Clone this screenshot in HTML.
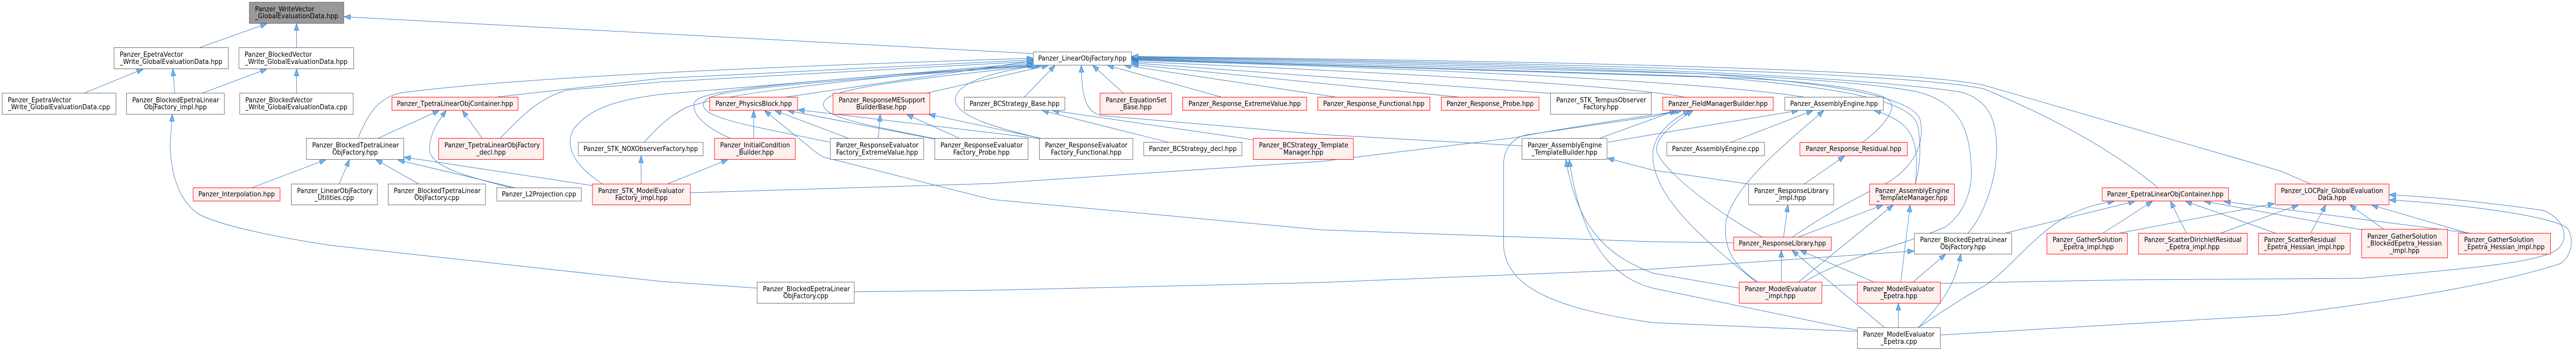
<!DOCTYPE html>
<html>
<head>
<meta charset="utf-8">
<style>
html,body{margin:0;padding:0;background:#fff;overflow:hidden;width:100%;height:100%;}
svg{display:block;position:absolute;left:0;top:0;width:100vw;height:100vh;}
text{font-family:"DejaVu Sans","Liberation Sans",sans-serif;font-size:13px;fill:#000;}
text.m{text-anchor:middle;}
.n rect{fill:#ffffff;stroke:#666666;stroke-width:1;}
.r rect{fill:#fff0f0;stroke:#ff0000;stroke-width:1;}
.g rect{fill:#999999;stroke:#666666;stroke-width:1;}
.e path{fill:none;stroke:#3f7fbf;stroke-width:1;marker-end:url(#ah);}
</style>
</head>
<body>
<svg viewBox="0 0 5455 681" preserveAspectRatio="none" xmlns="http://www.w3.org/2000/svg">
<defs>
<marker id="ah" markerUnits="userSpaceOnUse" markerWidth="15" markerHeight="12" refX="14" refY="6" orient="auto" viewBox="0 0 15 12">
<path d="M1,1.2 L14,6 L1,10.8 z" fill="#63b8ff" stroke="#3f7fbf" stroke-width="1"/>
</marker>
</defs>
<rect x="0" y="0" width="5455" height="681" fill="#ffffff"/>
<g class="e">
<path d="M422,92.5 L565,46"/>
<path d="M628,92.5 L628,46"/>
<path d="M2188,104 L729,32.5"/>
<path d="M178,180.7 L303,134"/>
<path d="M370,180.7 L366,134"/>
<path d="M428,180.7 L565,134"/>
<path d="M628,180.7 L628,134"/>
<path d="M533,364.4 L690,309.8"/>
<path d="M718,357 L740,309.8"/>
<path d="M887,357 L796,309.8"/>
<path d="M1091,364.4 L843,310.5"/>
<path d="M1254.5,360 L856,305"/>
<path d="M800,268.4 L930,214.5"/>
<path d="M1084,364.4 C1000,345 912,325 910,292 C908,262 928,235 945,214.5"/>
<path d="M1021,268.4 L979,214.5"/>
<path d="M1357.6,357 L1357.6,302.8"/>
<path d="M1596,268.4 L1596,214.5"/>
<path d="M1413,357 L1541,309.8"/>
<path d="M3671,471 L3500,469 L2800,446 L2100,387 L1745,305 C1730,298 1720,290 1710,282 L1619,214.5"/>
<path d="M1797,268.4 L1641,214.5"/>
<path d="M1979.5,270 L1668,214.5"/>
<path d="M2203,269 L1690,213"/>
<path d="M1860,268.4 L1864,222"/>
<path d="M2032,268.4 L1920,222"/>
<path d="M2205,268.4 L1967,222"/>
<path d="M2475,276.2 L2207,214.5"/>
<path d="M2653,271 L2229,214.5"/>
<path d="M2169,188.5 L2234,126.8"/>
<path d="M1962,180.7 L2220,126.8"/>
<path d="M1663,188.5 L2188,118"/>
<path d="M2379,180.7 L2314,126.8"/>
<path d="M2587,188.5 L2345,126.8"/>
<path d="M2830,188.5 L2381,126.8"/>
<path d="M3091,188.5 L2397,125"/>
<path d="M3283.5,181 L2397,122"/>
<path d="M3567,188.5 C3500,175 3200,150 2397,119.5"/>
<path d="M3821,188.5 C3700,170 3300,140 2397,117"/>
<path d="M3944,276.2 C3990,245 4012,215 4005,200 C3995,180 3900,163 3700,152 L2397,115.5"/>
<path d="M4056,357 C4066,320 4070,280 4060,240 C4040,195 3900,168 3600,148 L2397,114.5"/>
<path d="M3795,460 C3860,420 3920,388 3985,360 C4050,330 4078,280 4066,232 C4050,190 3900,162 3600,143 L2397,113.5"/>
<path d="M3821,547.3 C3900,500 4050,470 4120,440 C4165,410 4178,360 4174,320 C4170,250 4150,200 4060,178 C3900,150 3500,133 2397,112.5"/>
<path d="M4167,452.5 C4200,420 4228,350 4228,290 C4228,230 4210,192 4150,178 C3900,146 3400,126 2397,111.5"/>
<path d="M4570,364.4 C4500,310 4380,240 4200,172 C4000,135 3000,118 2397,110.5"/>
<path d="M4893,357 L4830,332 L4200,165 C4000,128 3000,116 2397,109.5"/>
<path d="M3223,283 L2800,261 L2330,224 C2300,215 2290,190 2290,127"/>
<path d="M758,268.4 C780,220 800,190 850,180 C1100,150 1600,130 2188,113"/>
<path d="M1050,188.5 L1400,152 L2188,116"/>
<path d="M1059,268.4 C1100,230 1140,190 1200,175 L1400,159 L2188,119"/>
<path d="M1276,357 C1230,330 1190,290 1215,250 C1250,210 1300,195 1400,183 L2188,122"/>
<path d="M1364,276.2 C1390,250 1410,230 1450,210 C1500,190 1700,160 2188,124.5"/>
<path d="M1547,268.4 C1500,250 1465,225 1470,200 C1480,180 1550,165 2190,126.5"/>
<path d="M1757,276 C1600,245 1480,230 1490,200 C1500,175 1600,168 2195,127"/>
<path d="M1985,270 C1850,245 1750,230 1744,205 C1740,180 1800,165 2205,127"/>
<path d="M2203,268.4 C2100,245 2020,225 2023,190 C2030,160 2100,140 2198,127"/>
<path d="M3821,357 L3906,302.8"/>
<path d="M3777,460 L3786,397.8"/>
<path d="M3808,460 L3987,397.8"/>
<path d="M3732,460 C3650,420 3530,340 3509,296 C3500,268 3550,235 3585,214.5"/>
<path d="M3719,547.3 C3600,460 3500,380 3500,300 C3500,262 3540,232 3578,214.5"/>
<path d="M3665,276.2 L3839,214.5"/>
<path d="M3723,547.3 C3660,510 3650,470 3655,430 C3670,360 3780,280 3862,214.5"/>
<path d="M4056,357 C4062,300 4060,260 4020,235 C4000,224 3985,218 3969,214.5"/>
<path d="M3405,276 L3500,261 L3808,214.5"/>
<path d="M3387,268.4 L3549,214.5"/>
<path d="M3933,643 L3500,626 C3300,600 3190,560 3184,478 L3184,320 C3184,290 3200,270 3230,262 L3500,226 L3555,214.5"/>
<path d="M1462,374 L2100,356 L2800,313 L3209,267 C3300,250 3450,230 3562,214.5"/>
<path d="M3683,559 L3500,530 C3400,495 3340,440 3316,310"/>
<path d="M3933,641 L3500,559 C3420,540 3350,480 3323,310"/>
<path d="M3703,357 L3500,330 L3404,307"/>
<path d="M3772,547.3 L3772,485.8"/>
<path d="M3808,547.3 L4009,397.8"/>
<path d="M4025,547.3 L4045,397.8"/>
<path d="M3969,547.3 L3812,485.8"/>
<path d="M4051,547.3 L4120,493.2"/>
<path d="M3991,635.7 L3795,485.8"/>
<path d="M4020,635.7 L4020,588.6"/>
<path d="M4062,635.7 C4100,600 4140,560 4152,493.2"/>
<path d="M1809,566 L2100,563 L2800,548 L3500,522 L4053,487"/>
<path d="M1603.5,559 L1400,546 L700,476 C600,462 470,440 420,415 C380,390 362,340 360,282 L365,222"/>
<path d="M4062,635.7 C4120,600 4170,570 4200,556 C4260,520 4300,460 4381,417 C4420,400 4450,394 4477,390.5"/>
<path d="M4246,452.5 L4521,390.5"/>
<path d="M4453,452.5 L4558,390.5"/>
<path d="M4487,452.5 L4816,395"/>
<path d="M4630,452.5 L4596,390.5"/>
<path d="M4702,452.5 L4867,397.8"/>
<path d="M4819,452.5 L4628,390.5"/>
<path d="M4893,452.5 L4925,397.8"/>
<path d="M5002,446 L4668,390.5"/>
<path d="M5048,444.7 L4976,397.8"/>
<path d="M5231,452.5 L4710,391"/>
<path d="M5227,452.5 L5022,397.8"/>
<path d="M3858,554 L4500,543 L5000,540 C5200,522 5380,512 5418,482 C5440,462 5432,425 5385,408 C5260,392 5150,382 5060,378"/>
<path d="M4109,650 L4830,611 C5100,580 5300,548 5420,512 C5450,497 5450,457 5436,442 C5400,418 5200,395 5060,388"/>
</g>

<!-- Row 1 -->
<g class="g"><rect x="528" y="4.3" width="200" height="41"/><text x="540" y="21.95">Panzer_WriteVector</text><text class="m" x="628" y="35.65">_GlobalEvaluationData.hpp</text></g>

<!-- Row 2 -->
<g class="n"><rect x="241.5" y="92.5" width="242" height="41"/><text x="253.5" y="110.15">Panzer_EpetraVector</text><text class="m" x="362.5" y="123.85">_Write_GlobalEvaluationData.hpp</text></g>
<g class="n"><rect x="506" y="92.5" width="243" height="41"/><text x="518" y="110.15">Panzer_BlockedVector</text><text class="m" x="627.5" y="123.85">_Write_GlobalEvaluationData.hpp</text></g>
<g class="n"><rect x="2188" y="100.8" width="208" height="25.6"/><text class="m" x="2292" y="117.6">Panzer_LinearObjFactory.hpp</text></g>

<!-- Row 3 -->
<g class="n"><rect x="4.5" y="180.7" width="241" height="41"/><text x="16.5" y="198.35">Panzer_EpetraVector</text><text class="m" x="125" y="212.05">_Write_GlobalEvaluationData.cpp</text></g>
<g class="n"><rect x="268" y="180.7" width="207" height="41"/><text x="280" y="198.35">Panzer_BlockedEpetraLinear</text><text class="m" x="371.5" y="212.05">ObjFactory_impl.hpp</text></g>
<g class="n"><rect x="507.5" y="180.7" width="240.5" height="41"/><text x="519.5" y="198.35">Panzer_BlockedVector</text><text class="m" x="627.75" y="212.05">_Write_GlobalEvaluationData.cpp</text></g>
<g class="r"><rect x="830" y="188.5" width="267" height="25.6"/><text class="m" x="963.5" y="205.3">Panzer_TpetraLinearObjContainer.hpp</text></g>
<g class="r"><rect x="1503" y="188.5" width="186" height="25.6"/><text class="m" x="1596" y="205.3">Panzer_PhysicsBlock.hpp</text></g>
<g class="r"><rect x="1764" y="180.7" width="205" height="41"/><text x="1776" y="198.35">Panzer_ResponseMESupport</text><text class="m" x="1866.5" y="212.05">BuilderBase.hpp</text></g>
<g class="n"><rect x="2042" y="188.5" width="213" height="25.6"/><text class="m" x="2148.5" y="205.3">Panzer_BCStrategy_Base.hpp</text></g>
<g class="r"><rect x="2329.5" y="180.7" width="151.5" height="41"/><text x="2341.5" y="198.35">Panzer_EquationSet</text><text class="m" x="2405.25" y="212.05">_Base.hpp</text></g>
<g class="r"><rect x="2504.5" y="188.5" width="262.5" height="25.6"/><text class="m" x="2635.75" y="205.3">Panzer_Response_ExtremeValue.hpp</text></g>
<g class="r"><rect x="2790.6" y="188.5" width="237.4" height="25.6"/><text class="m" x="2909.3" y="205.3">Panzer_Response_Functional.hpp</text></g>
<g class="r"><rect x="3052" y="188.5" width="207" height="25.6"/><text class="m" x="3155.5" y="205.3">Panzer_Response_Probe.hpp</text></g>
<g class="n"><rect x="3283.5" y="180.7" width="213.5" height="41"/><text x="3295.5" y="198.35">Panzer_STK_TempusObserver</text><text class="m" x="3390.25" y="212.05">Factory.hpp</text></g>
<g class="r"><rect x="3521" y="188.5" width="234" height="25.6"/><text class="m" x="3638" y="205.3">Panzer_FieldManagerBuilder.hpp</text></g>
<g class="n"><rect x="3779.5" y="188.5" width="208.5" height="25.6"/><text class="m" x="3883.75" y="205.3">Panzer_AssemblyEngine.hpp</text></g>

<!-- Row 4 -->
<g class="n"><rect x="649" y="268.4" width="206" height="41"/><text x="661" y="286.15">Panzer_BlockedTpetraLinear</text><text class="m" x="752" y="299.85">ObjFactory.hpp</text></g>
<g class="r"><rect x="929" y="268.4" width="222" height="41"/><text x="941" y="286.15">Panzer_TpetraLinearObjFactory</text><text class="m" x="1040" y="299.85">_decl.hpp</text></g>
<g class="n"><rect x="1224.5" y="276.2" width="264.5" height="26"/><text class="m" x="1356.75" y="293.2">Panzer_STK_NOXObserverFactory.hpp</text></g>
<g class="r"><rect x="1513" y="268.4" width="171" height="41"/><text x="1525" y="286.15">Panzer_InitialCondition</text><text class="m" x="1598.5" y="299.85">_Builder.hpp</text></g>
<g class="n"><rect x="1758.5" y="268.4" width="197.5" height="41"/><text x="1770.5" y="286.15">Panzer_ResponseEvaluator</text><text class="m" x="1857.25" y="299.85">Factory_ExtremeValue.hpp</text></g>
<g class="n"><rect x="1979.5" y="268.4" width="197.5" height="41"/><text x="1991.5" y="286.15">Panzer_ResponseEvaluator</text><text class="m" x="2078.25" y="299.85">Factory_Probe.hpp</text></g>
<g class="n"><rect x="2201" y="268.4" width="198" height="41"/><text x="2213" y="286.15">Panzer_ResponseEvaluator</text><text class="m" x="2300" y="299.85">Factory_Functional.hpp</text></g>
<g class="n"><rect x="2422" y="276.2" width="208" height="26"/><text class="m" x="2526" y="293.2">Panzer_BCStrategy_decl.hpp</text></g>
<g class="r"><rect x="2654" y="268.4" width="212" height="41"/><text x="2666" y="286.15">Panzer_BCStrategy_Template</text><text class="m" x="2760" y="299.85">Manager.hpp</text></g>
<g class="n"><rect x="3223" y="268.4" width="180" height="41"/><text x="3235" y="286.15">Panzer_AssemblyEngine</text><text class="m" x="3313" y="299.85">_TemplateBuilder.hpp</text></g>
<g class="n"><rect x="3529.5" y="276.2" width="207" height="26"/><text class="m" x="3633" y="293.2">Panzer_AssemblyEngine.cpp</text></g>
<g class="r"><rect x="3811.6" y="276.2" width="227.4" height="26"/><text class="m" x="3925.3" y="293.2">Panzer_Response_Residual.hpp</text></g>

<!-- Row 5 -->
<g class="r"><rect x="409" y="364.4" width="184" height="25.6"/><text class="m" x="501" y="381.2">Panzer_Interpolation.hpp</text></g>
<g class="n"><rect x="617" y="357" width="182" height="40.5"/><text x="629" y="374.35">Panzer_LinearObjFactory</text><text class="m" x="708" y="388.05">_Utilities.cpp</text></g>
<g class="n"><rect x="822" y="357" width="206" height="40.5"/><text x="834" y="374.35">Panzer_BlockedTpetraLinear</text><text class="m" x="925" y="388.05">ObjFactory.cpp</text></g>
<g class="n"><rect x="1052" y="364.4" width="179" height="25.6"/><text class="m" x="1141.5" y="381.2">Panzer_L2Projection.cpp</text></g>
<g class="r"><rect x="1254.5" y="357" width="207.5" height="40.5"/><text x="1266.5" y="374.35">Panzer_STK_ModelEvaluator</text><text class="m" x="1358.25" y="388.05">Factory_impl.hpp</text></g>
<g class="n"><rect x="3702.7" y="357" width="180.3" height="40.5"/><text x="3714.7" y="374.35">Panzer_ResponseLibrary</text><text class="m" x="3792.85" y="388.05">_impl.hpp</text></g>
<g class="r"><rect x="3959" y="357" width="180" height="40.5"/><text x="3971" y="374.35">Panzer_AssemblyEngine</text><text class="m" x="4049" y="388.05">_TemplateManager.hpp</text></g>
<g class="r"><rect x="4451.5" y="364.4" width="267.5" height="25.6"/><text class="m" x="4585.25" y="381.2">Panzer_EpetraLinearObjContainer.hpp</text></g>
<g class="r"><rect x="4818" y="357" width="241" height="40.5"/><text x="4830" y="374.35">Panzer_LOCPair_GlobalEvaluation</text><text class="m" x="4938.5" y="388.05">Data.hpp</text></g>

<!-- Row 6 -->
<g class="r"><rect x="3671" y="460" width="207" height="25.5"/><text class="m" x="3774.5" y="476.7">Panzer_ResponseLibrary.hpp</text></g>
<g class="n"><rect x="4054" y="452.5" width="206" height="40.5"/><text x="4066" y="469.75">Panzer_BlockedEpetraLinear</text><text class="m" x="4157" y="483.45">ObjFactory.hpp</text></g>
<g class="r"><rect x="4334.6" y="452.5" width="170.4" height="40.5"/><text x="4346.6" y="469.75">Panzer_GatherSolution</text><text class="m" x="4419.8" y="483.45">_Epetra_impl.hpp</text></g>
<g class="r"><rect x="4528.6" y="452.5" width="230.4" height="40.5"/><text x="4540.6" y="469.75">Panzer_ScatterDirichletResidual</text><text class="m" x="4643.8" y="483.45">_Epetra_impl.hpp</text></g>
<g class="r"><rect x="4782.6" y="452.5" width="194.4" height="40.5"/><text x="4794.6" y="469.75">Panzer_ScatterResidual</text><text class="m" x="4879.8" y="483.45">_Epetra_Hessian_impl.hpp</text></g>
<g class="r"><rect x="5001" y="444.7" width="182" height="55.6"/><text x="5013" y="462.9">Panzer_GatherSolution</text><text x="5013" y="476.6">_BlockedEpetra_Hessian</text><text class="m" x="5092" y="490.3">_impl.hpp</text></g>
<g class="r"><rect x="5206" y="452.5" width="195" height="40.5"/><text x="5218" y="469.75">Panzer_GatherSolution</text><text class="m" x="5303.5" y="483.45">_Epetra_Hessian_impl.hpp</text></g>

<!-- Row 7 -->
<g class="n"><rect x="1603.5" y="547.3" width="205.5" height="41"/><text x="1615.5" y="564.95">Panzer_BlockedEpetraLinear</text><text class="m" x="1706.25" y="578.65">ObjFactory.cpp</text></g>
<g class="r"><rect x="3683" y="547.3" width="175" height="41"/><text x="3695" y="564.95">Panzer_ModelEvaluator</text><text class="m" x="3770.5" y="578.65">_impl.hpp</text></g>
<g class="r"><rect x="3933.3" y="547.3" width="175.7" height="41"/><text x="3945.3" y="564.95">Panzer_ModelEvaluator</text><text class="m" x="4021.15" y="578.65">_Epetra.hpp</text></g>

<!-- Row 8 -->
<g class="n"><rect x="3933.3" y="635.7" width="175.7" height="40.5"/><text x="3945.3" y="653.15">Panzer_ModelEvaluator</text><text class="m" x="4021.15" y="666.85">_Epetra.cpp</text></g>
</svg>
</body>
</html>
